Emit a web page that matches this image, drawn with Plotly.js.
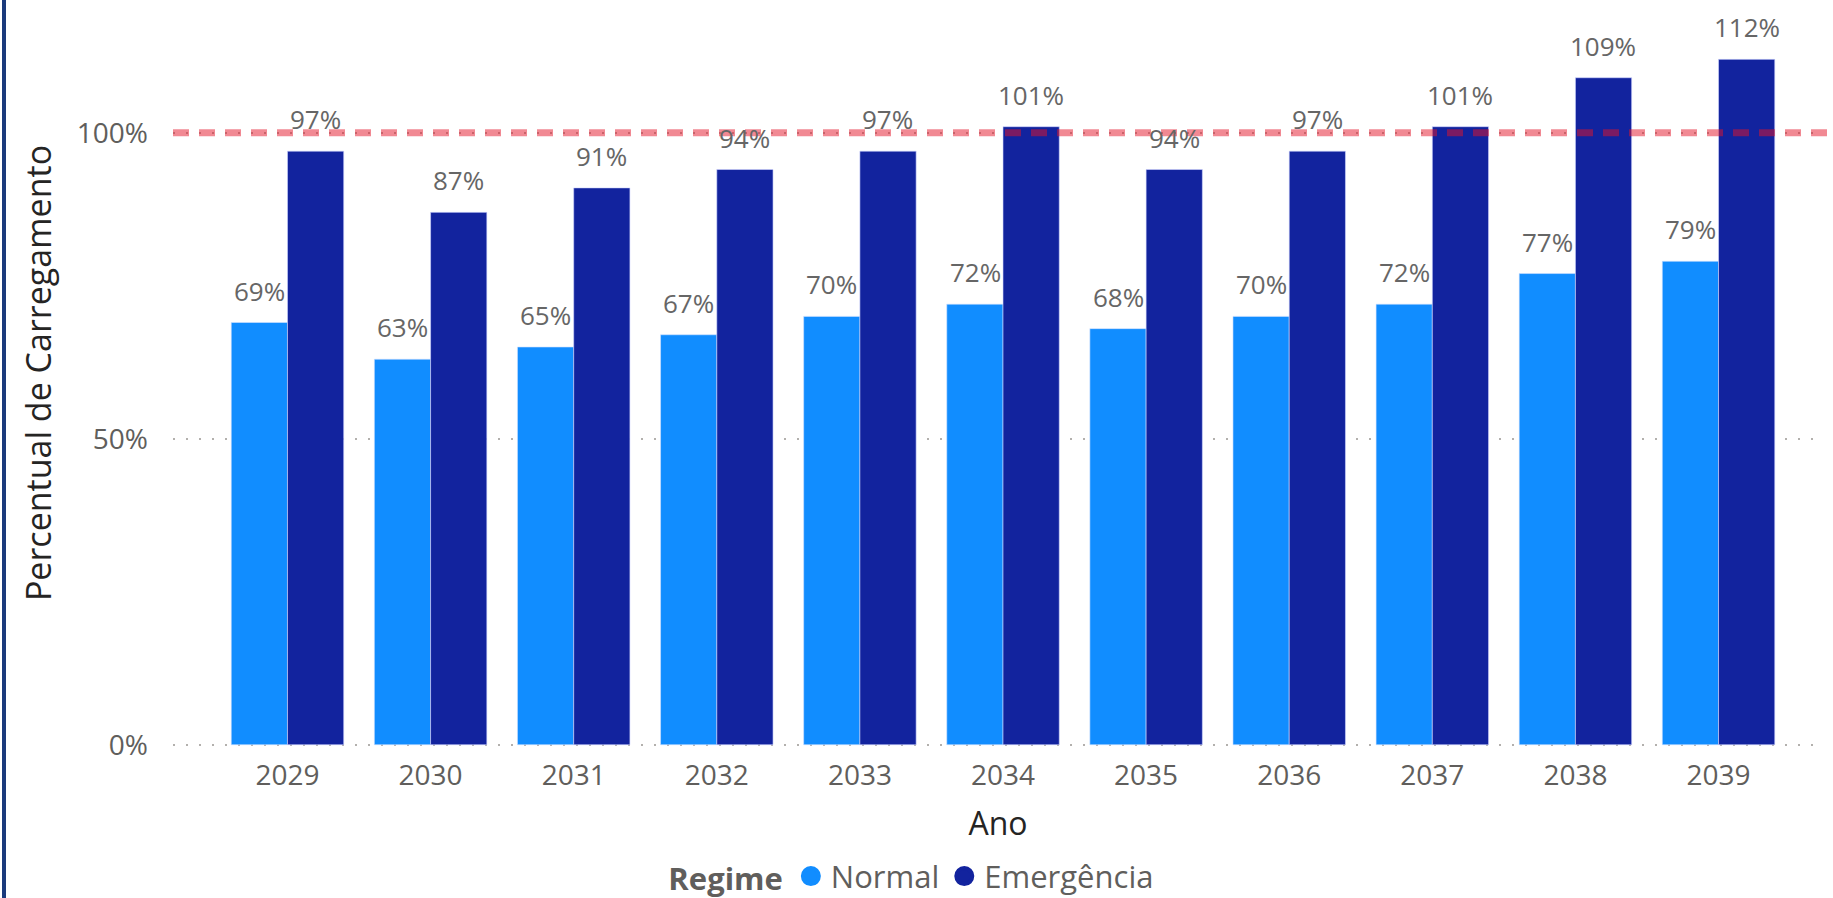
<!DOCTYPE html>
<html>
<head>
<meta charset="utf-8">
<script src="https://cdn.plot.ly/plotly-3.0.1.min.js"></script>
<style>
  html, body { margin: 0; padding: 0; background: #ffffff; }
  #wrap { position: relative; width: 1833px; height: 898px; overflow: hidden; }
  #edge { position: absolute; left: 2px; top: 0; width: 4px; height: 898px; background: #1b3a7c; z-index: 5; }
  #chart { width: 1833px; height: 898px; }
</style>
</head>
<body>
<div id="wrap">
  <div id="edge"></div>
  <div id="chart"></div>
</div>
<script>
const anos = ['2029','2030','2031','2032','2033','2034','2035','2036','2037','2038','2039'];
const normal = [69, 63, 65, 67, 70, 72, 68, 70, 72, 77, 79];
const emergencia = [97, 87, 91, 94, 97, 101, 94, 97, 101, 109, 112];
const limite = 100;
const yTicks = [0, 50, 100];
const yTickText = ['0%', '50%', '100%'];

const fontFam = '"Segoe UI", "Open Sans", "Noto Sans", sans-serif';

const traces = [
  {
    type: 'bar', name: 'Normal', x: anos, y: normal,
    marker: { color: '#118DFF', line: { color: 'rgba(210,225,255,0.6)', width: 1 } },
    showlegend: false, hoverinfo: 'x+y'
  },
  {
    type: 'bar', name: 'Emergência', x: anos, y: emergencia,
    marker: { color: '#12239E', line: { color: 'rgba(210,215,255,0.6)', width: 1 } },
    showlegend: false, hoverinfo: 'x+y'
  },
  { type: 'scatter', mode: 'markers', name: 'Normal', x: [null], y: [null],
    marker: { color: '#118DFF', size: 16, symbol: 'circle', line: { color: '#118DFF', width: 4 } }, showlegend: true },
  { type: 'scatter', mode: 'markers', name: 'Emergência', x: [null], y: [null],
    marker: { color: '#12239E', size: 16, symbol: 'circle', line: { color: '#12239E', width: 4 } }, showlegend: true }
];

// data labels above each bar (half bar width offset inside each group)
const halfBar = 28;
const annotations = [];
for (let i = 0; i < anos.length; i++) {
  annotations.push({ x: i, y: normal[i], xref: 'x', yref: 'y', text: normal[i] + '%',
    showarrow: false, xshift: -halfBar, yshift: 12, xanchor: 'center', yanchor: 'bottom',
    font: { family: fontFam, size: 26, color: '#666666' } });
  annotations.push({ x: i, y: emergencia[i], xref: 'x', yref: 'y', text: emergencia[i] + '%',
    showarrow: false, xshift: halfBar, yshift: 12, xanchor: 'center', yanchor: 'bottom',
    font: { family: fontFam, size: 26, color: '#666666' } });
}

const layout = {
  width: 1833, height: 898,
  margin: { l: 173, r: 10, t: 0, b: 152, pad: 0 },
  paper_bgcolor: '#ffffff', plot_bgcolor: '#ffffff',
  barmode: 'group', bargap: 0.214, bargroupgap: 0,
  font: { family: fontFam, color: '#605E5C' },
  xaxis: {
    type: 'category', range: [-0.8, 10.73],
    showgrid: false, zeroline: false, showline: false, ticks: '',
    tickfont: { family: fontFam, size: 28, color: '#605E5C' },
    ticklabelstandoff: 10,
    title: { text: 'Ano', font: { family: fontFam, size: 32, color: '#252423' }, standoff: 20 }
  },
  yaxis: {
    range: [-0.2, 121.7], tickvals: yTicks, ticktext: yTickText,
    showgrid: true, gridcolor: '#B3B0AD', gridwidth: 1.5, griddash: '2px,11px',
    zeroline: false, showline: false, ticks: '',
    tickfont: { family: fontFam, size: 28, color: '#605E5C' },
    ticklabelstandoff: 24,
    title: { text: 'Percentual de Carregamento', font: { family: fontFam, size: 34, color: '#252423' }, standoff: 14 }
  },
  shapes: [
    { type: 'line', xref: 'paper', yref: 'y', x0: 0, x1: 1.01, y0: limite, y1: limite,
      line: { color: 'rgba(228,20,40,0.5)', width: 7, dash: '16px,10px' }, layer: 'above' }
  ],
  annotations: annotations,
  legend: {
    orientation: 'h', xref: 'paper', x: 0.299, xanchor: 'left',
    yref: 'container', y: 0.024, yanchor: 'middle',
    font: { family: fontFam, size: 31, color: '#605E5C' },
    title: { text: '<b>Regime</b>', font: { family: fontFam, size: 31, color: '#605E5C' } },
    itemwidth: 30, tracegroupgap: 0, bgcolor: 'rgba(0,0,0,0)'
  },
  showlegend: true
};

Plotly.newPlot('chart', traces, layout, { displayModeBar: false, staticPlot: true });
</script>
</body>
</html>
